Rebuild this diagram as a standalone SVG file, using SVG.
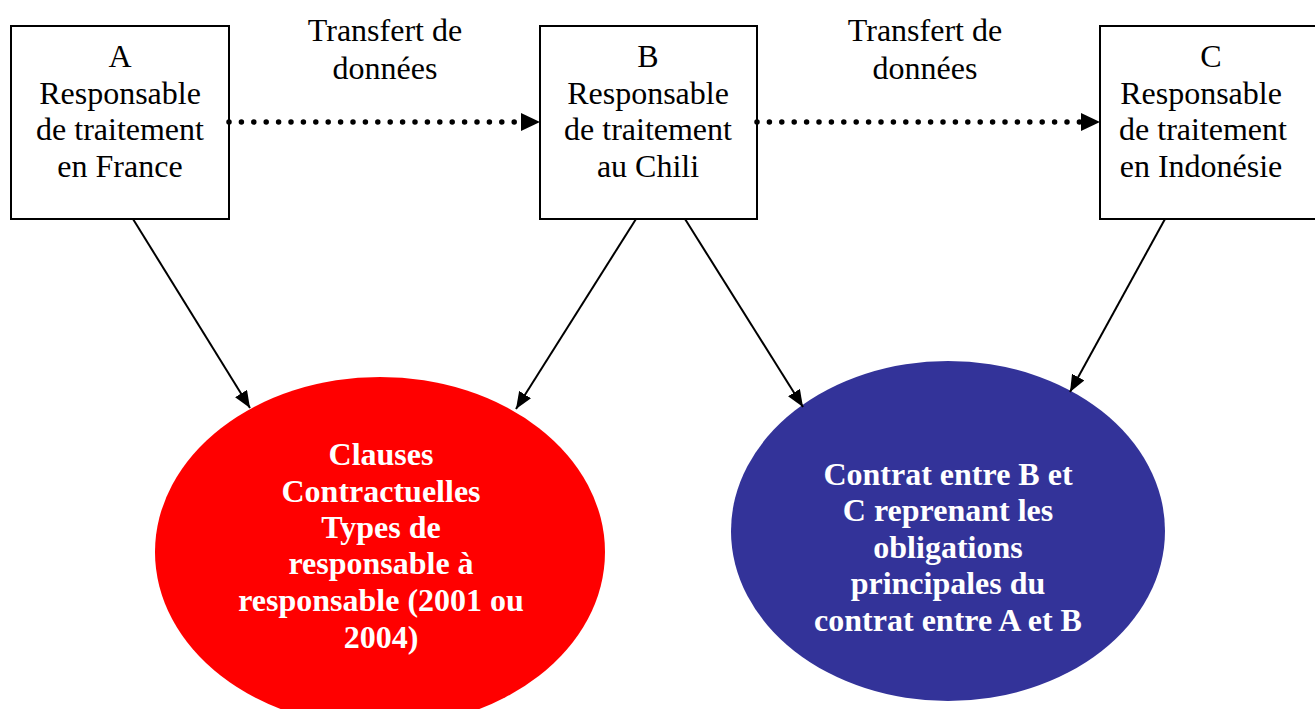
<svg xmlns="http://www.w3.org/2000/svg" width="1315" height="709" viewBox="0 0 1315 709">
  <style>
    .box { fill: #ffffff; stroke: #000000; stroke-width: 2; }
    .lbl { font-family: "Liberation Serif", "Times New Roman", serif; font-size: 32px; fill: #000000; text-anchor: middle; }
    .elbl { font-family: "Liberation Serif", "Times New Roman", serif; font-size: 32px; font-weight: bold; fill: #ffffff; text-anchor: middle; }
    .solid { stroke: #000000; stroke-width: 2; fill: none; }
    .dotted { stroke: #000000; stroke-width: 5.5; stroke-linecap: round; stroke-dasharray: 0 12.4; fill: none; }
  </style>
  <defs>
    <marker id="head" viewBox="0 0 10 10" refX="10" refY="5" markerWidth="17" markerHeight="14" markerUnits="userSpaceOnUse" orient="auto" preserveAspectRatio="none">
      <path d="M0,0 L10,5 L0,10 Z" fill="#000000"/>
    </marker>
  </defs>

  <rect width="1315" height="709" fill="#ffffff"/>

  <g id="ellipse-clauses">
    <ellipse cx="380" cy="552" rx="225" ry="175" fill="#ff0000"/>
    <text class="elbl" x="381" y="465">Clauses</text>
    <text class="elbl" x="381" y="502">Contractuelles</text>
    <text class="elbl" x="381" y="538">Types de</text>
    <text class="elbl" x="381" y="574">responsable à</text>
    <text class="elbl" x="381" y="611">responsable (2001 ou</text>
    <text class="elbl" x="381" y="648">2004)</text>
  </g>

  <g id="ellipse-contrat">
    <ellipse cx="948" cy="531" rx="217" ry="170" fill="#333399"/>
    <text class="elbl" x="948" y="485">Contrat entre B et</text>
    <text class="elbl" x="948" y="521">C reprenant les</text>
    <text class="elbl" x="948" y="558">obligations</text>
    <text class="elbl" x="948" y="594">principales du</text>
    <text class="elbl" x="948" y="631">contrat entre A et B</text>
  </g>

  <g id="node-a">
    <rect class="box" x="11" y="26" width="218" height="193"/>
    <text class="lbl" x="120" y="67">A</text>
    <text class="lbl" x="120" y="104">Responsable</text>
    <text class="lbl" x="120" y="140">de traitement</text>
    <text class="lbl" x="120" y="177">en France</text>
  </g>

  <g id="node-b">
    <rect class="box" x="540" y="26" width="217" height="193"/>
    <text class="lbl" x="648" y="67">B</text>
    <text class="lbl" x="648" y="104">Responsable</text>
    <text class="lbl" x="648" y="140">de traitement</text>
    <text class="lbl" x="648" y="177">au Chili</text>
  </g>

  <g id="node-c">
    <rect class="box" x="1100" y="26" width="218" height="193"/>
    <text class="lbl" x="1211" y="67">C</text>
    <text class="lbl" x="1201" y="104">Responsable</text>
    <text class="lbl" x="1203" y="140">de traitement</text>
    <text class="lbl" x="1201" y="177">en Indonésie</text>
  </g>

  <g id="transfer-labels">
    <text class="lbl" x="385" y="41">Transfert de</text>
    <text class="lbl" x="385" y="79">données</text>
    <text class="lbl" x="925" y="41">Transfert de</text>
    <text class="lbl" x="925" y="79">données</text>
  </g>

  <g id="connectors">
    <line class="dotted" x1="229" y1="122" x2="524" y2="122"/>
    <path d="M521,113 L540,122 L521,131 Z" fill="#000000"/>
    <line class="dotted" x1="757" y1="122" x2="1084" y2="122"/>
    <path d="M1081,113 L1100,122 L1081,131 Z" fill="#000000"/>

    <line class="solid" x1="133" y1="219" x2="250" y2="408" marker-end="url(#head)"/>
    <line class="solid" x1="636" y1="219" x2="516" y2="409" marker-end="url(#head)"/>
    <line class="solid" x1="685" y1="219" x2="803" y2="407" marker-end="url(#head)"/>
    <line class="solid" x1="1165" y1="219" x2="1070" y2="392" marker-end="url(#head)"/>
  </g>
</svg>
